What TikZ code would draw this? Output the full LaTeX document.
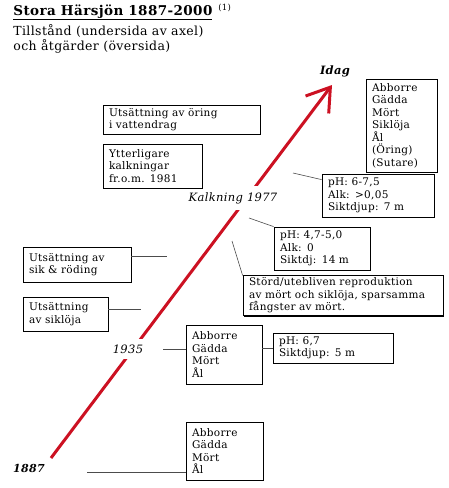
\documentclass[tikz,border=0pt]{standalone}
\usepackage{fontspec}
\setmainfont[LetterSpace=3]{DejaVu Serif}
\usepackage{xcolor}
\usepackage{tikz}
\usetikzlibrary{arrows.meta,shadows}
\definecolor{axisred}{RGB}{204,17,34}

\begin{document}
\begin{tikzpicture}[x=1pt, y=-1pt, thick]
    \tikzstyle{box} = [rectangle, draw, line width=0.8pt, fill=white, align=left, inner xsep=6pt, inner ysep=2pt, font=\fontsize{10.5}{12.5}\selectfont, drop shadow={shadow xshift=1.4pt, shadow yshift=-1.4pt, opacity=1, fill=black}]
    \tikzstyle{line} = [draw, black!70, line width=0.6pt]
    \tikzstyle{year} = [fill=white, inner xsep=2pt, inner ysep=6pt]
    \tikzstyle{redline} = [draw, axisred, line width=3pt, -{Straight Barb[length=22pt, width=29pt]}]

    \useasboundingbox (0,0) rectangle (448,488);

    % time axis
    \coordinate (start) at (51,458);
    \coordinate (tip) at (332,85);
    \path [redline] (start) -- (tip);

    % heading
    \node [anchor=base west, inner sep=0pt, font=\bfseries\fontsize{13.5}{16}\selectfont] (title) at (13,15) {\underline{Stora Härsjön 1887-2000}\hspace{6pt}{\normalfont\fontsize{8.5}{9}\selectfont\raisebox{5pt}{(1)}}};
    \node [anchor=base west, inner sep=0pt, align=left, font=\fontsize{12.5}{15}\selectfont] (subtitle) at (13,50) {Tillstånd (undersida av axel)\\och åtgärder (översida)};

    % labels on the axis
    \node [font=\bfseries\itshape\fontsize{11.5}{12}\selectfont] (idag) at (335,71) {Idag};
    \node [year, font=\itshape\fontsize{11.5}{12}\selectfont] (kalk) at (233,198) {Kalkning 1977};
    \node [year, font=\itshape\fontsize{11.5}{12}\selectfont] (y1935) at (128,349) {1935};
    \node [font=\bfseries\itshape\fontsize{11}{12}\selectfont] (y1887) at (29,468) {1887};

    % boxes
    \node [box, text width=145pt, minimum height=29pt] (oring) at (181.5,119.5) {Utsättning av öring\\i vattendrag};
    \node [box, text width=87pt, minimum height=44pt] (ytter) at (152.5,166) {Ytterligare\\kalkningar\\fr.o.m. 1981};
    \node [box, text width=59pt, minimum height=93pt] (fishNow) at (401.5,125.5) {Abborre\\Gädda\\Mört\\Siklöja\\Ål\\(Öring)\\(Sutare)};
    \node [box, text width=100pt, minimum height=43pt] (phNow) at (378,195.5) {pH: 6-7,5\\Alk: >0,05\\Siktdjup: 7 m};
    \node [box, text width=84pt, minimum height=43pt] (phLow) at (322,248.5) {pH: 4,7-5,0\\Alk: 0\\Siktdj: 14 m};
    \node [box, text width=96pt, minimum height=35pt] (sik) at (77,264.5) {Utsättning av\\sik \& röding};
    \node [box, text width=188pt, minimum height=37pt] (stord) at (343,295.5) {Störd/utebliven reproduktion\\av mört och siklöja, sparsamma\\fångster av mört.};
    \node [box, text width=73pt, minimum height=34pt] (siklo) at (65.5,314) {Utsättning\\av siklöja};
    \node [box, text width=64pt, minimum height=59pt] (fish1935) at (224,354.5) {Abborre\\Gädda\\Mört\\Ål};
    \node [box, text width=108pt, minimum height=30pt] (ph1935) at (333,348) {pH: 6,7\\Siktdjup: 5 m};
    \node [box, text width=65pt, minimum height=58pt] (fish1887) at (224.5,451) {Abborre\\Gädda\\Mört\\Ål};

    % free ends of the connectors
    \coordinate (kalkD) at (293,173);
    \coordinate (kalkE) at (249,218);
    \coordinate (kalkF) at (232,241);
    \coordinate (sikEnd) at (167,256);
    \coordinate (sikloEnd) at (141,309);
    \coordinate (y1935End) at (163,349);
    \coordinate (y1887End) at (87,472);

    \path [line] (kalkD) -- ([yshift=-6pt]phNow.north west);
    \path [line] (kalkE) -- (phLow.north west);
    \path [line] (kalkF) -- (stord.north west);
    \path [line] (sikEnd -| sik.east) -- (sikEnd);
    \path [line] (sikloEnd -| siklo.east) -- (sikloEnd);
    \path [line] (y1935End) -- (y1935End -| fish1935.west);
    \path [line] (ph1935.west -| fish1935.east) -- (ph1935.west);
    \path [line] (y1887End) -- (y1887End -| fish1887.west);
\end{tikzpicture}
\end{document}
